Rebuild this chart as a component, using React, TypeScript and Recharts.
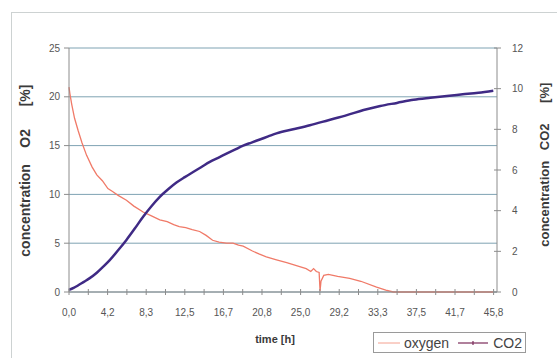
import { LineChart, Line, XAxis, YAxis, CartesianGrid } from 'recharts'

// oxygen [%] (left axis)
const oxygenTime = [0, 0.1, 0.3, 0.6, 1.0, 1.4, 1.9, 2.5, 3.0, 3.6, 4.2, 4.7, 5.3, 6.2, 7.0, 8.0, 8.9, 9.8, 10.6, 11.3, 11.9, 12.6, 13.3, 14.1, 14.8, 15.5, 16.2, 17.0, 17.7, 18.3, 18.8, 19.8, 20.5, 21.3, 22.4, 23.5, 24.9, 25.6, 26.1, 26.4, 26.7, 27.0, 27.1, 27.2, 27.5, 28.0, 29.0, 30.3, 31.5, 33.2, 34.2, 35.0, 36.0, 38.0, 40.0, 42.0, 44.0, 45.8]
const oxygenValues = [21.0, 20.3, 19.2, 17.8, 16.5, 15.3, 14.0, 12.8, 12.0, 11.4, 10.6, 10.3, 9.9, 9.4, 8.8, 8.2, 7.8, 7.4, 7.2, 6.9, 6.7, 6.6, 6.4, 6.2, 5.8, 5.3, 5.1, 5.0, 5.0, 4.8, 4.7, 4.2, 3.9, 3.6, 3.3, 3.0, 2.6, 2.4, 2.1, 2.4, 2.1, 2.0, 0.1, 1.1, 1.7, 1.8, 1.6, 1.4, 1.1, 0.5, 0.2, 0.0, 0, 0, 0, 0, 0, 0]

// CO2 [%] (right axis)
const co2Time = [0, 0.5, 1.0, 1.6, 2.2, 3.0, 3.7, 4.4, 5.3, 6.2, 7.1, 8.0, 8.9, 9.8, 10.7, 11.6, 12.5, 13.4, 14.3, 15.2, 16.1, 17.0, 17.9, 18.8, 19.7, 20.6, 21.5, 22.4, 24.2, 26.0, 28.0, 30.0, 31.8, 33.6, 35.4, 37.2, 39.0, 40.8, 42.5, 44.2, 45.8]
const co2Values = [0.1, 0.2, 0.33, 0.5, 0.67, 0.95, 1.25, 1.57, 2.05, 2.56, 3.12, 3.7, 4.22, 4.68, 5.05, 5.38, 5.65, 5.9, 6.15, 6.4, 6.6, 6.8, 7.0, 7.2, 7.35, 7.5, 7.65, 7.8, 8.0, 8.2, 8.45, 8.7, 8.95, 9.15, 9.3, 9.45, 9.55, 9.64, 9.72, 9.8, 9.9]

// time axis: a tick every 2.083 h, label on every other one
const timeTicks = [0, 2.083, 4.167, 6.25, 8.333, 10.417, 12.5, 14.583, 16.667, 18.75, 20.833, 22.917, 25, 27.083, 29.167, 31.25, 33.333, 35.417, 37.5, 39.583, 41.667, 43.75, 45.833]
const timeLabels = ['0,0', '4,2', '8,3', '12,5', '16,7', '20,8', '25,0', '29,2', '33,3', '37,5', '41,7', '45,8']
const o2Ticks = [0, 5, 10, 15, 20, 25]
const co2Ticks = [0, 2, 4, 6, 8, 10, 12]

const oxygenData = oxygenTime.map((t, i) => ({ t, o2: oxygenValues[i] }))
const co2Data = co2Time.map((t, i) => ({ t, co2: co2Values[i] }))

const FONT = '"Liberation Sans", Arial, sans-serif'
const AXIS = '#8c8c8c'
const GRID = '#7fa3b3'
const LABEL = '#555'
const OXYGEN = '#f07a68'
const CO2 = '#3f2a85'

function TimeTick({ x, y, index }: any) {
  const label = index % 2 === 0 ? timeLabels[index / 2] : ''
  return (
    <g>
      <line x1={x} x2={x} y1={y - 3} y2={y + 3} stroke={AXIS} />
      {label && (
        <text x={x} y={y + 24} textAnchor="middle" fontSize={10} fill={LABEL} fontFamily={FONT}>
          {label}
        </text>
      )}
    </g>
  )
}

function RightTick({ x, y, payload }: any) {
  return (
    <g>
      <line x1={x - 3} x2={x + 4} y1={y} y2={y} stroke={AXIS} />
      <text x={x + 15} y={y + 3.5} textAnchor="start" fontSize={10} fill={LABEL} fontFamily={FONT}>
        {payload.value}
      </text>
    </g>
  )
}

// one rotated word of an axis title, centred on (cx, cy)
function VWord({ text, cx, cy, size }: { text: string; cx: number; cy: number; size: number }) {
  return (
    <div
      style={{
        position: 'absolute', left: cx - 60, top: cy - size * 0.6, width: 120,
        textAlign: 'center', fontFamily: FONT, fontWeight: 'bold', fontSize: size,
        lineHeight: `${size * 1.2}px`, color: '#3a3a3a', whiteSpace: 'nowrap',
        transform: 'rotate(-90deg)',
      }}
    >
      {text}
    </div>
  )
}

export default function App() {
  return (
    <div style={{ position: 'absolute', left: 0, top: 0, width: 557, height: 358, background: '#fff', overflow: 'hidden' }}>
      <div style={{ position: 'absolute', left: 11, top: 12, width: 560, height: 360, border: '1px solid #cdd2d2' }} />
      <div style={{ position: 'absolute', left: 0, top: 0 }}>
        <LineChart width={557} height={358} margin={{ top: 48, right: 25, left: 24, bottom: 36 }}>
          <CartesianGrid yAxisId="left" vertical={false} stroke={GRID} />
          <XAxis
            type="number"
            dataKey="t"
            domain={[0, 46.2]}
            ticks={timeTicks}
            interval={0}
            tick={<TimeTick />}
            tickSize={0}
            tickMargin={0}
            tickLine={false}
            axisLine={{ stroke: AXIS }}
            height={30}
            allowDuplicatedCategory={false}
          />
          <YAxis
            yAxisId="left"
            domain={[0, 25]}
            ticks={o2Ticks}
            width={45}
            tickSize={5}
            tickMargin={4}
            tick={{ fontSize: 10, fill: LABEL, fontFamily: FONT }}
            tickLine={{ stroke: AXIS }}
            axisLine={{ stroke: AXIS }}
          />
          <YAxis
            yAxisId="right"
            orientation="right"
            domain={[0, 12]}
            ticks={co2Ticks}
            width={35}
            tickSize={0}
            tickMargin={0}
            tick={<RightTick />}
            tickLine={false}
            axisLine={{ stroke: AXIS }}
          />
          <Line
            yAxisId="left"
            data={oxygenData}
            dataKey="o2"
            type="linear"
            stroke={OXYGEN}
            strokeWidth={1.3}
            dot={false}
            isAnimationActive={false}
          />
          <Line
            yAxisId="right"
            data={co2Data}
            dataKey="co2"
            type="monotone"
            stroke={CO2}
            strokeWidth={2.5}
            dot={false}
            isAnimationActive={false}
          />
        </LineChart>
      </div>

      {/* left title: concentration O2 [%] */}
      <VWord text="concentration" cx={25} cy={210} size={14} />
      <VWord text="O2" cx={25} cy={138} size={14} />
      <VWord text="[%]" cx={25} cy={95} size={14} />
      {/* right title: concentration CO2 [%] */}
      <VWord text="concentration" cx={545} cy={204} size={13} />
      <VWord text="CO2" cx={545} cy={137} size={13} />
      <VWord text="[%]" cx={545} cy={93} size={13} />

      <div
        style={{
          position: 'absolute', left: 235, top: 333, width: 80, textAlign: 'center',
          fontFamily: FONT, fontWeight: 'bold', fontSize: 11, color: '#3a3a3a',
        }}
      >
        time [h]
      </div>

      <div
        style={{
          position: 'absolute', left: 373, top: 332, width: 151, height: 19,
          border: '1px solid #9a9a9a', display: 'flex', alignItems: 'center',
          fontFamily: FONT, fontSize: 14, color: '#444',
        }}
      >
        <svg width={28} height={10} style={{ marginLeft: 2 }}>
          <line x1={2} x2={24} y1={5} y2={5} stroke="#f4a08f" strokeWidth={1} />
        </svg>
        <span>oxygen</span>
        <svg width={34} height={10} style={{ marginLeft: 7 }}>
          <line x1={2} x2={32} y1={5} y2={5} stroke="#7b2a5a" strokeWidth={1.2} />
          <line x1={17} x2={17} y1={3} y2={7} stroke="#7b2a5a" strokeWidth={1.2} />
        </svg>
        <span style={{ marginLeft: 3 }}>CO2</span>
      </div>
    </div>
  )
}
